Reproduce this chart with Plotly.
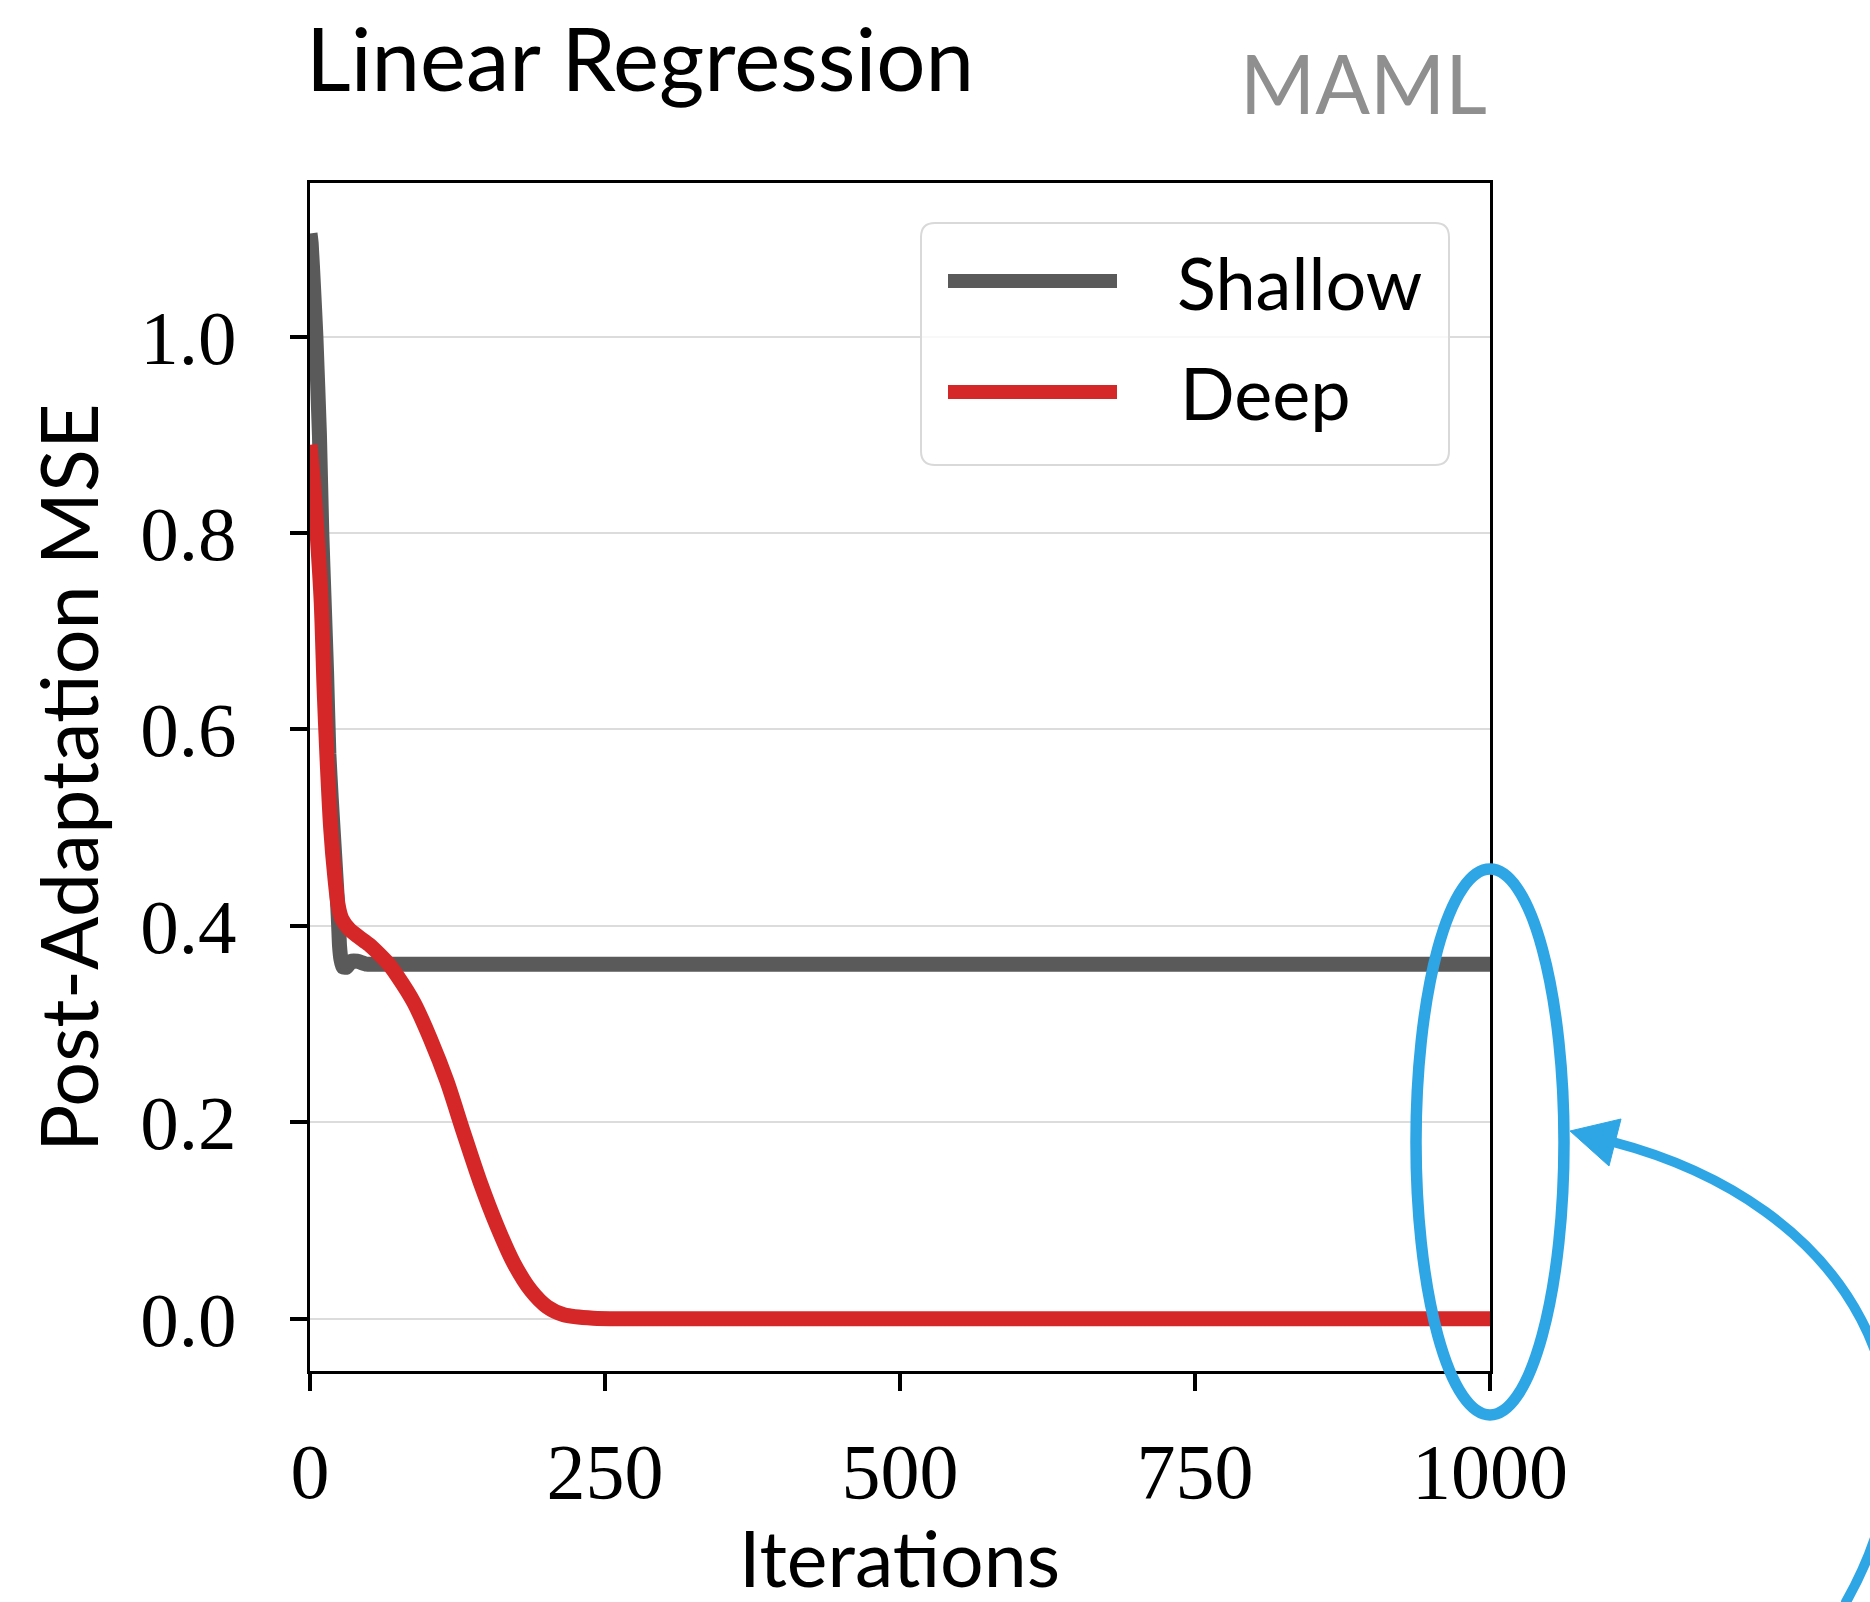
import plotly.graph_objects as go

# ---------------- data ----------------
shallow_iter = [0, 1, 3, 5, 8, 10, 12, 14, 16, 18, 20, 22, 23.5, 24.3, 25, 26.2, 28, 31, 35, 40, 48, 60,
                100, 200, 300, 400, 500, 600, 700, 800, 900, 1000]
shallow_mse = [1.105, 1.095, 1.05, 1.00, 0.90, 0.80, 0.73, 0.66, 0.575, 0.53, 0.49, 0.45, 0.42, 0.40,
               0.38, 0.366, 0.358, 0.358, 0.364, 0.364, 0.361, 0.361,
               0.361, 0.361, 0.361, 0.361, 0.361, 0.361, 0.361, 0.361, 0.361, 0.361]

deep_iter = [0, 3, 6, 9.5, 12, 14.5, 17.5, 21, 24, 27, 33, 41, 50, 58, 66, 74, 88, 102, 116, 130,
             144.5, 158.6, 172.5, 187, 201, 215, 240, 270, 400, 600, 800, 1000]
deep_mse = [0.89, 0.85, 0.80, 0.73, 0.64, 0.569, 0.50, 0.45, 0.42, 0.407, 0.397, 0.389, 0.381, 0.372,
            0.362, 0.349, 0.322, 0.285, 0.242, 0.190, 0.138, 0.094, 0.057, 0.029, 0.012, 0.004,
            0.0005, 0.0, 0.0, 0.0, 0.0, 0.0]

x_ticks = [0, 250, 500, 750, 1000]
y_ticks = [0.0, 0.2, 0.4, 0.6, 0.8, 1.0]
y_ticktext = ["0.0", "0.2", "0.4", "0.6", "0.8", "1.0"]

series_names = ["Shallow", "Deep"]
series_colors = ["#5a5a5a", "#d62728"]

# ---------------- layout geometry ----------------
W, H = 1870, 1602
L, R, T, B = 310, 380, 183, 231
PW, PH = W - L - R, H - T - B


def px(X):
    return (X - L) / PW


def py(Y):
    return (H - B - Y) / PH


SANS = "Lato"
SERIF = "Liberation Serif"
BLUE = "#2ea6e5"
LW = 15

fig = go.Figure()
fig.add_trace(go.Scatter(x=shallow_iter, y=shallow_mse, mode="lines", name=series_names[0],
                         line=dict(color=series_colors[0], width=LW, shape="spline", smoothing=0.4),
                         showlegend=False))
fig.add_trace(go.Scatter(x=deep_iter, y=deep_mse, mode="lines", name=series_names[1],
                         line=dict(color=series_colors[1], width=LW, shape="spline", smoothing=0.8),
                         showlegend=False))

fig.update_layout(
    width=W, height=H,
    margin=dict(l=L, r=R, t=T, b=B, pad=0),
    paper_bgcolor="white", plot_bgcolor="white",
    showlegend=False,
)
fig.update_xaxes(range=[0, 1000], tickvals=x_ticks, ticktext=[str(v) for v in x_ticks],
                 showgrid=False, zeroline=False,
                 showline=True, linecolor="black", linewidth=3, mirror=True,
                 ticks="outside", ticklen=17, tickwidth=4, tickcolor="black",
                 ticklabelstandoff=13,
                 tickfont=dict(family=SERIF, size=78, color="black"))
fig.update_yaxes(range=[-0.0533, 1.1565], tickvals=y_ticks, ticktext=y_ticktext,
                 showgrid=True, gridcolor="#dcdcdc", gridwidth=2, zeroline=False,
                 showline=True, linecolor="black", linewidth=3, mirror=True,
                 ticks="outside", ticklen=17, tickwidth=4, tickcolor="black",
                 ticklabelstandoff=38,
                 tickfont=dict(family=SERIF, size=77, color="black"))

ann = []
ann.append(dict(text="Linear Regression", x=px(304), y=py(58), xref="paper", yref="paper",
                xanchor="left", yanchor="middle", showarrow=False,
                font=dict(family=SANS, size=87, color="black")))
ann.append(dict(text="MAML", x=px(1489), y=py(82), xref="paper", yref="paper",
                xanchor="right", yanchor="middle", showarrow=False,
                font=dict(family=SANS, size=81, color="#8f8f8f")))
ann.append(dict(text="Post-Adaptation MSE", x=px(67), y=py(778), xref="paper", yref="paper",
                xanchor="center", yanchor="middle", textangle=-90, showarrow=False,
                font=dict(family=SANS, size=79, color="black")))
ann.append(dict(text="Iterations", x=px(899), y=py(1557), xref="paper", yref="paper",
                xanchor="center", yanchor="middle", showarrow=False,
                font=dict(family=SANS, size=77, color="black")))
# legend texts
ann.append(dict(text=series_names[0], x=px(1175), y=py(282), xref="paper", yref="paper",
                xanchor="left", yanchor="middle", showarrow=False,
                font=dict(family=SANS, size=72, color="black")))
ann.append(dict(text=series_names[1], x=px(1178), y=py(392), xref="paper", yref="paper",
                xanchor="left", yanchor="middle", showarrow=False,
                font=dict(family=SANS, size=72, color="black")))
fig.update_layout(annotations=ann)

shapes = []
# legend box with rounded corners
x0, x1, y0, y1, r = 921, 1449, 223, 465, 14


def P(X, Y):
    return f"{px(X):.5f},{py(Y):.5f}"


legend_path = (f"M{P(x0 + r, y0)} L{P(x1 - r, y0)} Q{P(x1, y0)} {P(x1, y0 + r)} "
               f"L{P(x1, y1 - r)} Q{P(x1, y1)} {P(x1 - r, y1)} L{P(x0 + r, y1)} "
               f"Q{P(x0, y1)} {P(x0, y1 - r)} L{P(x0, y0 + r)} Q{P(x0, y0)} {P(x0 + r, y0)} Z")
shapes.append(dict(type="path", path=legend_path, xref="paper", yref="paper", layer="above",
                   fillcolor="rgba(255,255,255,0.8)", line=dict(color="#d9d9d9", width=2)))
for Yl, col in zip([281, 392], series_colors):
    shapes.append(dict(type="line", x0=px(948), x1=px(1117), y0=py(Yl), y1=py(Yl),
                       xref="paper", yref="paper", layer="above",
                       line=dict(color=col, width=14)))

# blue ellipse around the final values
shapes.append(dict(type="circle", x0=px(1416), x1=px(1564), y0=py(1415), y1=py(869),
                   xref="paper", yref="paper", layer="above",
                   line=dict(color=BLUE, width=11.5)))
# curved arrow
arrow_path = f"M{P(1613, 1142)} C{P(1850, 1204)} {P(1960, 1400)} {P(1846, 1602)} L{P(1835, 1640)}"
shapes.append(dict(type="path", path=arrow_path, xref="paper", yref="paper", layer="above",
                   line=dict(color=BLUE, width=10)))
head_path = f"M{P(1570, 1131)} L{P(1621, 1119)} L{P(1609, 1166)} Z"
shapes.append(dict(type="path", path=head_path, xref="paper", yref="paper", layer="above",
                   fillcolor=BLUE, line=dict(color=BLUE, width=1)))
fig.update_layout(shapes=shapes)

fig.write_html("out.html")
